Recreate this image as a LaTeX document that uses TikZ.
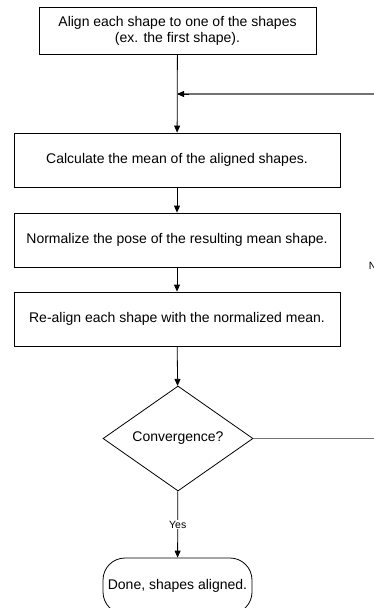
\documentclass[tikz,border=0pt]{standalone}
\usepackage{fontspec}
\setmainfont{Liberation Sans}
\usetikzlibrary{shapes.geometric,arrows.meta}

\begin{document}
\begin{tikzpicture}[x=1pt,y=-1pt,
    every node/.style={font=\fontsize{14}{16}\selectfont},
    procbox/.style={draw,rectangle,minimum width=326,minimum height=54,inner sep=0pt,line width=0.8pt},
    flow/.style={-{Triangle[length=7pt,width=6pt]},line width=0.8pt},
    loopline/.style={line width=1.4pt,draw=black!55},
    lbl/.style={font=\fontsize{10.5}{12}\selectfont,fill=white,inner sep=1pt}]
    \useasboundingbox (0,0) rectangle (373,608);%
    \node[draw,rectangle,minimum width=277,minimum height=47,inner sep=0pt,line width=0.8pt,align=center] at (177.5,30.5) (align) {Align each shape to one of the shapes\\(ex. the first shape).};%
    \foreach \y/\n/\t in {160/mean/Calculate the mean of the aligned shapes., 240/norm/Normalize the pose of the resulting mean shape., 319/realign/Re-align each shape with the normalized mean.} {%
      \node[procbox] at (177,\y) (\n) {\t};%
    };%
    \node[draw,diamond,minimum width=150,minimum height=105,inner sep=0pt,line width=0.8pt] at (178,438.5) (conv) {Convergence?};%
    \node[draw,rectangle,rounded corners=22,minimum width=149,minimum height=56,inner sep=0pt,line width=0.8pt] at (177.5,586) (done) {\raisebox{2pt}{Done, shapes aligned.}};%
    \coordinate (join) at (177,94);%
    \coordinate (loopa) at (375.5,438.5);%
    \coordinate (loopb) at (375.5,94);%
    \draw[flow] (align) -- (mean);%
    \draw[flow] (mean) -- (norm);%
    \draw[flow] (norm) -- (realign);%
    \draw[flow] (realign) -- (conv);%
    \draw[flow] (conv) -- node[lbl]{Yes} (done);%
    \draw[loopline] (conv.east) -- (loopa) -- node[lbl]{No} (loopb) -- (join);%
    \draw[-{Triangle[length=7pt,width=6pt]},line width=0.8pt] ([xshift=12pt]join) -- (join);%
  \end{tikzpicture}
\end{document}
